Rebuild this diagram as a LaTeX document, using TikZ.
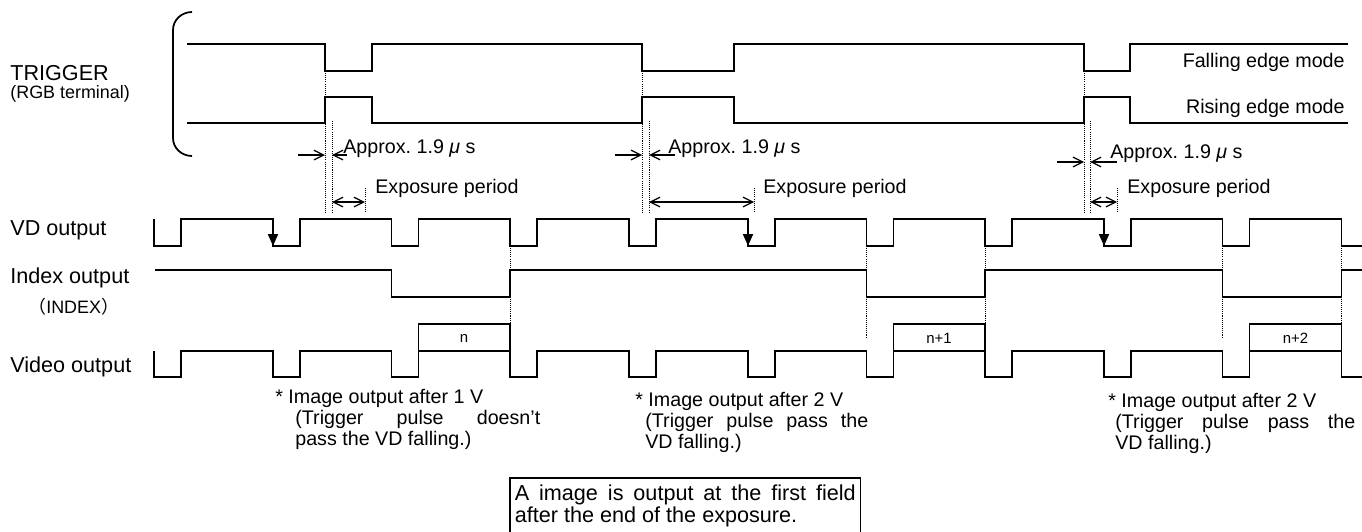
\documentclass[tikz,border=0pt]{standalone}
\usepackage{fontspec}
\setmainfont{Liberation Sans}
\newfontfamily\cjkfont{Noto Sans CJK JP}
\usetikzlibrary{arrows.meta}
\frenchspacing

\tikzset{
  wave/.style={line width=1pt},
  guide/.style={line width=0.5pt,dash pattern=on 0.6pt off 0.6pt},
  dimarrow/.style={line width=0.7pt,-{Straight Barb[length=5.5pt,width=5.5pt]}},
  exparrow/.style={line width=0.7pt,{Straight Barb[length=5.5pt,width=5.5pt]}-{Straight Barb[length=5.5pt,width=5.5pt]}},
  vdmark/.style={line width=1pt,-{Triangle[length=6.8pt,width=5.7pt]}},
  siglabel/.style={font=\fontsize{12.3}{14}\selectfont,inner sep=0pt,anchor=base west},
  sublabel/.style={font=\fontsize{10.2}{12}\selectfont,inner sep=0pt,anchor=base west},
  notetext/.style={font=\fontsize{11.2}{11.9}\selectfont,inner sep=0pt,anchor=base west,align=left},
  fieldlabel/.style={font=\fontsize{8.5}{10}\selectfont,inner sep=0pt}
}

\begin{document}
\begin{tikzpicture}[x=0.02cm,y=-0.02cm]
\useasboundingbox (0,0) rectangle (1362,531);

% signal names
\node[siglabel] (trig) at (10,80) {TRIGGER};
\node[sublabel] (trigsrc) at (10,98) {(RGB terminal)};
\node[siglabel] (vd) at (10,235) {VD output};
\node[siglabel] (idx) at (10,283) {Index output};
\node[sublabel] (idxsub) at (28,313) {{\cjkfont （}INDEX{\cjkfont ）}};
\node[siglabel] (video) at (10,372) {Video output};

% trigger
\draw[wave] (192,12) to[out=180,in=90] (173,30) -- (173,138) to[out=-90,in=180] (192,156);
\draw[wave] (187,44) -| (325,71) -| (372,44) -| (642,71) -| (734,44) -| (1084,71) -| (1130,44) -- (1348,44);
\draw[wave] (187,123) -| (325,97) -| (372,123) -| (642,97) -| (734,123) -| (1084,97) -| (1130,123) -- (1348,123);
\node[notetext,anchor=base east] (fallmode) at (1345,67) {Falling edge mode};
\node[notetext,anchor=base east] (risemode) at (1345,113) {Rising edge mode};

% delay and exposure marks
\draw[guide] (325,73) -- (325,213);
\draw[guide] (332,121) -- (332,213);
\draw[dimarrow] (298,155) -- (325,155);
\draw[dimarrow] (347,155) -- (332,155);
\node[notetext] (delay1) at (343,153) {Approx. 1.9 \textit{μ} s};
\draw[guide] (365,188) -- (365,213);
\draw[exparrow] (332,202) -- (365,202);
\node[notetext] (exp1) at (375,193) {Exposure period};

\draw[guide] (642,73) -- (642,213);
\draw[guide] (649,121) -- (649,213);
\draw[dimarrow] (615,155) -- (642,155);
\draw[dimarrow] (675,155) -- (649,155);
\node[notetext] (delay2) at (668,153) {Approx. 1.9 \textit{μ} s};
\draw[guide] (754,188) -- (754,213);
\draw[exparrow] (649,202) -- (754,202);
\node[notetext] (exp2) at (763,193) {Exposure period};

\draw[guide] (1084,73) -- (1084,213);
\draw[guide] (1090,121) -- (1090,213);
\draw[dimarrow] (1057,162) -- (1084,162);
\draw[dimarrow] (1117,162) -- (1090,162);
\node[notetext] (delay3) at (1110,158) {Approx. 1.9 \textit{μ} s};
\draw[guide] (1117,188) -- (1117,213);
\draw[exparrow] (1090,202) -- (1117,202);
\node[notetext] (exp3) at (1127,193) {Exposure period};

% VD output
\draw[wave] (154,219) -- (154,246) -| (181,219) -| (273,246) -| (300,219) -| (391.5,246) -| (418.5,219) -| (510,246) -| (537,219) -| (629,246) -| (656,219) -| (748,246) -| (775,219) -| (866.5,246) -| (893.5,219) -| (985,246) -| (1012,219) -| (1104,246) -| (1131,219) -| (1222.5,246) -| (1249.5,219) -| (1341.5,246) -- (1362,246);
\draw[vdmark] (273,219) -- (273,246);
\draw[vdmark] (748,219) -- (748,246);
\draw[vdmark] (1104,219) -- (1104,246);

% index output
\draw[wave] (155,270) -| (391.5,297) -| (510,270) -| (866.5,297) -| (985,270) -| (1222.5,297) -| (1341.5,270) -- (1362,270);

% video output
\draw[wave] (154,351) -- (154,377) -| (181,351) -| (273,377) -| (300,351) -| (391.5,377) -| (418.5,324) -| (510,377) -| (537,351) -| (629,377) -| (656,351) -| (748,377) -| (775,351) -| (866.5,377) -| (893.5,324) -| (985,377) -| (1012,351) -| (1104,377) -| (1131,351) -| (1222.5,377) -| (1249.5,324) -| (1341.5,377) -- (1362,377);
\draw[wave] (418.5,351) -- (510,351);
\draw[wave] (893.5,351) -- (985,351);
\draw[wave] (1249.5,351) -- (1341.5,351);
\node[fieldlabel] (fld0) at (464,338) {n};
\node[fieldlabel] (fld1) at (939,338) {n+1};
\node[fieldlabel] (fld2) at (1295.5,338) {n+2};

% field boundaries
\draw[guide] (510,248) -- (510,324);
\draw[guide] (866.5,248) -- (866.5,337);
\draw[guide] (985,248) -- (985,324);
\draw[guide] (1222.5,248) -- (1222.5,337);
\draw[guide] (1341.5,248) -- (1341.5,324);

% notes (base anchor sits on the last line)
\node[notetext] (note1) at (275,445) {* Image output after 1 V\\\hspace*{0.4cm}\makebox[4.9cm][s]{(Trigger pulse doesn’t}\\\hspace*{0.4cm}pass the VD falling.)};
\node[notetext] (note2) at (635,448) {* Image output after 2 V\\\hspace*{0.2cm}\makebox[4.46cm][s]{(Trigger pulse pass the}\\\hspace*{0.2cm}VD falling.)};
\node[notetext] (note3) at (1108,449) {* Image output after 2 V\\\hspace*{0.14cm}\makebox[4.8cm][s]{(Trigger pulse pass the}\\\hspace*{0.14cm}VD falling.)};

% summary box, open at the bottom edge of the picture
\node[anchor=north west,text width=6.82cm,inner xsep=0.09cm,inner ysep=0.12cm,align=justify,font=\fontsize{12.3}{13}\selectfont] (summary) at (510,478) {\hyphenpenalty=10000 A image is output at the first field\linebreak after the end of the exposure.};
\draw[line width=0.8pt] ([yshift=-0.3cm]summary.south west) |- (summary.north east) -- ([yshift=-0.3cm]summary.south east);
\end{tikzpicture}
\end{document}
